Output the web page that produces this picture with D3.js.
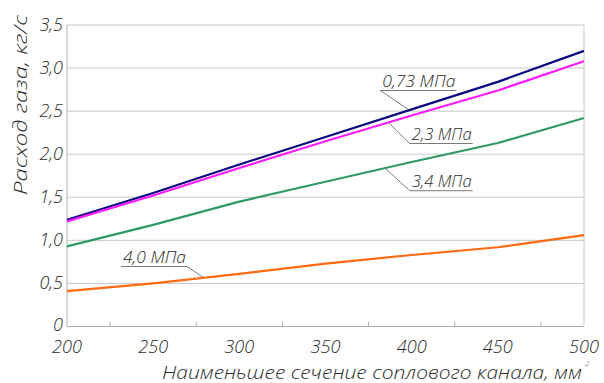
<!DOCTYPE html>
<html>
<head>
<meta charset="utf-8">
<script src="https://cdn.jsdelivr.net/npm/d3@7"></script>
<style>
  html, body { margin: 0; padding: 0; background: #fff; }
  svg text { font-family: "Open Sans", "DejaVu Sans", sans-serif; font-style: italic; font-weight: 300; fill: #2b2b2b; }
</style>
</head>
<body>
<svg id="chart" width="604" height="383"></svg>
<script>
// Nozzle throat area, mm²
const areas = [200, 250, 300, 350, 400, 450, 500];
// Gas flow rate, kg/s, for each inlet pressure
const flow073 = [1.24, 1.55, 1.88, 2.20, 2.52, 2.84, 3.20];
const flow23  = [1.22, 1.52, 1.84, 2.15, 2.45, 2.74, 3.08];
const flow34  = [0.93, 1.18, 1.45, 1.68, 1.91, 2.13, 2.42];
const flow40  = [0.41, 0.50, 0.61, 0.73, 0.83, 0.92, 1.06];

const xTicks = [200, 250, 300, 350, 400, 450, 500];
const xMinorTicks = [225, 275, 325, 375, 425, 475];
const yTicks = [0, 0.5, 1.0, 1.5, 2.0, 2.5, 3.0, 3.5];

const series = [
  { name: "0,73 МПа", values: flow073, color: "#0a0a80" },
  { name: "2,3 МПа",  values: flow23,  color: "#ff1aff" },
  { name: "3,4 МПа",  values: flow34,  color: "#2f9a66" },
  { name: "4,0 МПа",  values: flow40,  color: "#ff6a10" }
];

// Callout labels: text start (area, flow), underline length, leader tip on the curve
const callouts = [
  { text: "0,73 МПа", at: [383, 2.78], width: 76, tip: [398, 2.52], from: "left" },
  { text: "2,3 МПа",  at: [400, 2.165], width: 63, tip: [387, 2.36], from: "left" },
  { text: "3,4 МПа",  at: [400, 1.617], width: 63, tip: [384.5, 1.84], from: "left" },
  { text: "4,0 МПа",  at: [232.5, 0.737], width: 66, tip: [279.5, 0.563], from: "right" }
];

const svg = d3.select("#chart");
const m = { left: 67, right: 584, top: 25, bottom: 326.5 };

const x = d3.scaleLinear().domain([200, 500]).range([m.left, m.right]);
const y = d3.scaleLinear().domain([0, 3.5]).range([m.bottom, m.top]);

// horizontal grid
svg.append("g").selectAll("line").data(yTicks.filter(v => v > 0)).join("line")
  .attr("x1", m.left).attr("x2", m.right)
  .attr("y1", d => y(d)).attr("y2", d => y(d))
  .attr("stroke", "#c8c8c8").attr("stroke-width", 1);

// frame: left, bottom, right
svg.append("line").attr("x1", m.left).attr("x2", m.left).attr("y1", m.top).attr("y2", m.bottom)
  .attr("stroke", "#b0b0b0");
svg.append("line").attr("x1", m.right).attr("x2", m.right).attr("y1", m.top).attr("y2", m.bottom)
  .attr("stroke", "#c8c8c8");
svg.append("line").attr("x1", m.left).attr("x2", m.right).attr("y1", m.bottom).attr("y2", m.bottom)
  .attr("stroke", "#b0b0b0");

// minor ticks on the x axis
svg.append("g").selectAll("line").data(xMinorTicks).join("line")
  .attr("x1", d => x(d)).attr("x2", d => x(d))
  .attr("y1", m.bottom - 5).attr("y2", m.bottom)
  .attr("stroke", "#b0b0b0");

// tick labels
svg.append("g").selectAll("text").data(yTicks).join("text")
  .attr("x", m.left - 4).attr("y", d => y(d) + (d === 0 ? 4.5 : 6))
  .attr("text-anchor", "end").attr("font-size", 18)
  .text(d => d === 0 ? "0" : d3.format(".1f")(d).replace(".", ","));

svg.append("g").selectAll("text").data(xTicks).join("text")
  .attr("x", d => x(d)).attr("y", 353)
  .attr("text-anchor", "middle").attr("font-size", 17.5)
  .attr("textLength", 30).attr("lengthAdjust", "spacingAndGlyphs")
  .text(d => d);

// axis titles
svg.append("text")
  .attr("transform", "translate(27,105) rotate(-90)")
  .attr("text-anchor", "middle").attr("font-size", 18)
  .attr("textLength", 180).attr("lengthAdjust", "spacingAndGlyphs")
  .text("Расход газа, кг/с");

svg.append("text")
  .attr("x", 162).attr("y", 379).attr("font-size", 17.5)
  .attr("textLength", 420).attr("lengthAdjust", "spacingAndGlyphs")
  .text("Наименьшее сечение соплового канала, мм");
svg.append("text").attr("x", 585).attr("y", 366).attr("font-size", 8).text("2");

// curves
const line = d3.line().x((d, i) => x(areas[i])).y(d => y(d));
svg.append("g").selectAll("path").data(series).join("path")
  .attr("d", d => line(d.values))
  .attr("fill", "none")
  .attr("stroke", d => d.color)
  .attr("stroke-width", 2.2)
  .attr("stroke-linejoin", "round");

// callouts with underline and leader
const cg = svg.append("g");
callouts.forEach(c => {
  const tx = x(c.at[0]), ty = y(c.at[1]);
  cg.append("text").attr("x", tx).attr("y", ty).attr("font-size", 16)
    .attr("textLength", c.width - 3).attr("lengthAdjust", "spacingAndGlyphs")
    .text(c.text);
  const ux0 = tx - 2, ux1 = tx + c.width - 2, uy = ty + 3.5;
  cg.append("line").attr("x1", ux0).attr("x2", ux1).attr("y1", uy).attr("y2", uy)
    .attr("stroke", "#7a7a7a").attr("stroke-width", 1);
  const sx = c.from === "left" ? ux0 : ux1;
  cg.append("line").attr("x1", sx).attr("y1", uy)
    .attr("x2", x(c.tip[0])).attr("y2", y(c.tip[1]))
    .attr("stroke", "#7a7a7a").attr("stroke-width", 1);
});
</script>
</body>
</html>
